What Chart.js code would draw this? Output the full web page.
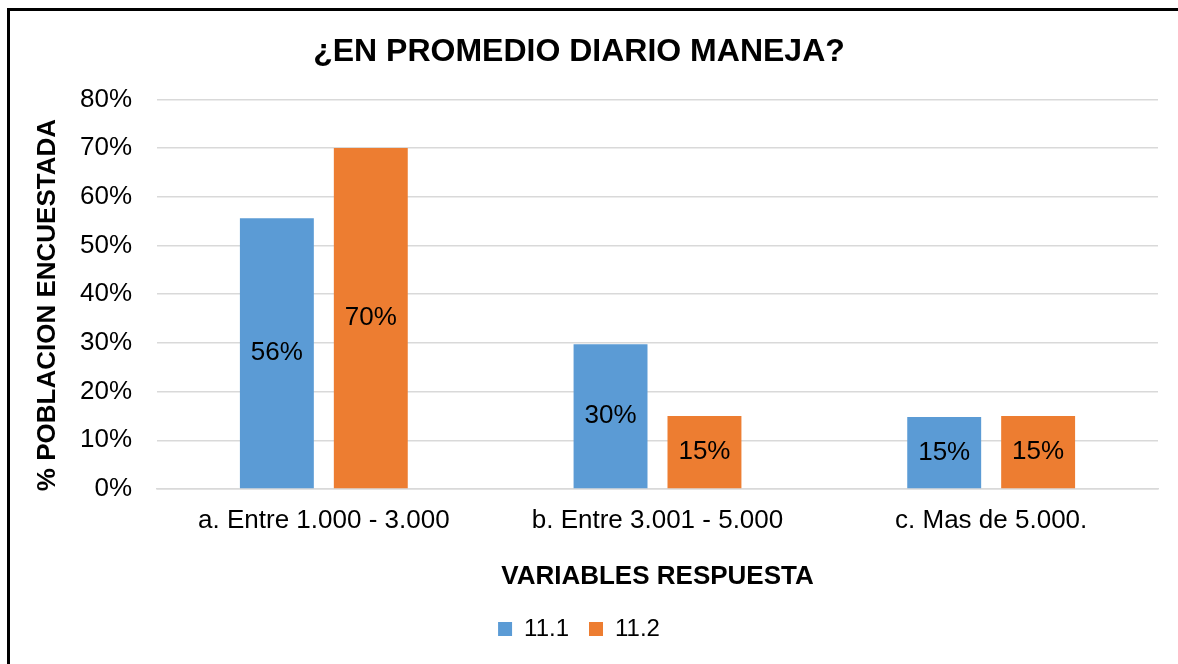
<!DOCTYPE html>
<html lang="es">
<head>
    <meta charset="UTF-8">
    <script src="https://cdn.jsdelivr.net/npm/chart.js"></script>
    <title>Promedio diario</title>
    <style>
        html, body { margin: 0; padding: 0; background: #fff; }
        #wrap { position: relative; width: 1178px; height: 664px; overflow: hidden; }
        #frame {
            position: absolute; left: 7px; top: 8px; width: 1300px; height: 800px;
            border-left: 3px solid #000; border-top: 3px solid #000;
            pointer-events: none;
        }
    </style>
</head>
<body>
<div id="wrap">
    <canvas id="chart" width="1178" height="664"></canvas>
    <div id="frame"></div>
</div>

<script>
    // values (percent)
    const categories = ['a. Entre 1.000 - 3.000', 'b. Entre 3.001 - 5.000', 'c. Mas de 5.000.'];
    const serie111 = [55.6, 29.7, 14.8];
    const serie112 = [70, 15, 15];
    const labels111 = ['56%', '30%', '15%'];
    const labels112 = ['70%', '15%', '15%'];
    const seriesNames = ['11.1', '11.2'];

    const FONT = "'Liberation Sans', Arial, sans-serif";

    // simple centered labels inside the bars
    const barLabels = {
        id: 'barLabels',
        afterDatasetsDraw(chart) {
            const ctx = chart.ctx;
            const texts = [labels111, labels112];
            ctx.save();
            ctx.font = '26px ' + FONT;
            ctx.fillStyle = '#000';
            ctx.textAlign = 'center';
            ctx.textBaseline = 'middle';
            chart.data.datasets.forEach((ds, i) => {
                chart.getDatasetMeta(i).data.forEach((bar, j) => {
                    const p = bar.getProps(['x', 'y', 'base'], true);
                    ctx.fillText(texts[i][j], p.x, (p.y + p.base) / 2);
                });
            });
            ctx.restore();
        }
    };

    new Chart(document.getElementById('chart'), {
        type: 'bar',
        data: {
            labels: categories,
            datasets: [{
                label: seriesNames[0],
                data: serie111,
                backgroundColor: '#5B9BD5',
                categoryPercentage: 0.563,
                barPercentage: 0.787
            }, {
                label: seriesNames[1],
                data: serie112,
                backgroundColor: '#ED7D31',
                categoryPercentage: 0.563,
                barPercentage: 0.787
            }]
        },
        options: {
            responsive: false,
            animation: false,
            events: [],
            layout: { padding: { left: 0, right: 20, top: 0, bottom: 13 } },
            plugins: {
                title: {
                    display: true,
                    text: '¿EN PROMEDIO DIARIO MANEJA?',
                    color: '#000',
                    font: { family: FONT, size: 32, weight: 'bold' },
                    padding: { top: 33, bottom: 28 }
                },
                legend: {
                    position: 'bottom',
                    labels: {
                        color: '#000',
                        font: { family: FONT, size: 24 },
                        boxWidth: 14,
                        boxHeight: 14,
                        padding: 20
                    }
                },
                tooltip: { enabled: false }
            },
            scales: {
                x: {
                    grid: { display: false, drawTicks: false },
                    border: { display: true, color: '#d9d9d9', width: 1.5 },
                    ticks: { color: '#000', font: { family: FONT, size: 26 }, padding: 16 },
                    title: {
                        display: true,
                        text: 'VARIABLES RESPUESTA',
                        color: '#000',
                        font: { family: FONT, size: 26, weight: 'bold' },
                        padding: { top: 10, bottom: 5 }
                    },
                    afterFit(scale) { scale.height = 108; }
                },
                y: {
                    min: 0,
                    max: 80,
                    ticks: {
                        stepSize: 10,
                        color: '#000',
                        font: { family: FONT, size: 26 },
                        padding: 25,
                        callback: v => v + '%'
                    },
                    grid: { color: '#d9d9d9', lineWidth: 1.5, drawTicks: false },
                    border: { display: false },
                    title: {
                        display: true,
                        text: '% POBLACION ENCUESTADA   ',
                        color: '#000',
                        font: { family: FONT, size: 26, weight: 'bold' },
                        padding: { top: 32, bottom: 0 }
                    },
                    afterFit(scale) { scale.width = 157; }
                }
            }
        },
        plugins: [barLabels]
    });
</script>
</body>
</html>
